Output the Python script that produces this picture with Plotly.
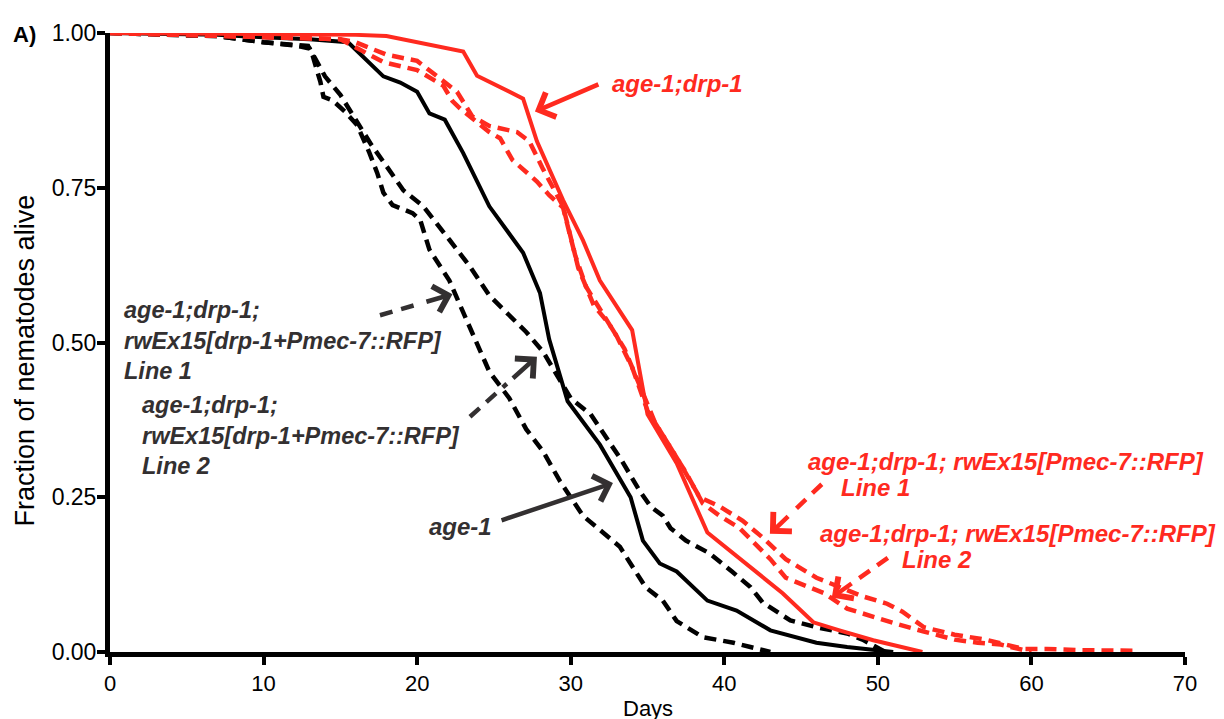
import plotly.graph_objects as go

RED = "#ff2a1f"
DARK = "#333031"

# --- survival data (days, fraction alive) ---
age1_days = [0, 7, 10, 13, 15.5, 17.8, 18.9, 20, 20.8, 21.8, 23, 24.7, 26.9, 28, 28.6,
             29.8, 31.9, 33.9, 34.7, 35.8, 36.9, 38.9, 40.8, 43, 46, 48, 51]
age1_frac = [1, 0.997, 0.993, 0.99, 0.985, 0.93, 0.92, 0.905, 0.87, 0.86, 0.806, 0.72, 0.645,
             0.58, 0.505, 0.405, 0.335, 0.25, 0.18, 0.143, 0.13, 0.083, 0.067, 0.035, 0.015,
             0.008, 0]

adrp_days = [0, 16, 18, 23, 23.9, 26.9, 27.8, 29.5, 30.8, 31.9, 34, 35, 36.9, 38.9, 43.8,
             45.8, 47.5, 49.7, 52.9]
adrp_frac = [1, 0.997, 0.995, 0.97, 0.931, 0.894, 0.825, 0.73, 0.665, 0.6, 0.52, 0.384, 0.305,
             0.193, 0.095, 0.048, 0.035, 0.019, 0]

# age-1;drp-1; rwEx15[drp-1+Pmec-7::RFP] Line 1
rescue1_days = [0, 7, 10, 12, 13, 14, 15, 16, 17, 18, 19.1, 20.4, 21.3, 22.1, 23.4, 24.7, 26,
                27.1, 28.2, 30, 31.3, 32.4, 33.3, 34.5, 35.2, 36, 36.5, 37.5, 39, 40.5, 41.7,
                42.5, 43.5, 44.3, 46, 48, 49, 50.5]
rescue1_frac = [1, 0.995, 0.985, 0.98, 0.975, 0.93, 0.9, 0.86, 0.82, 0.785, 0.746, 0.72, 0.69,
                0.666, 0.624, 0.576, 0.544, 0.517, 0.485, 0.41, 0.384, 0.345, 0.31, 0.26, 0.235,
                0.22, 0.2, 0.18, 0.16, 0.13, 0.105, 0.08, 0.063, 0.051, 0.04, 0.03, 0.02, 0]

# age-1;drp-1; rwEx15[drp-1+Pmec-7::RFP] Line 2
rescue2_days = [0, 7, 10, 12.9, 13.2, 13.7, 13.9, 14.5, 15.3, 16.1, 16.9, 17.4, 17.8, 18.4,
                19.7, 20.2, 20.8, 22.1, 22.8, 23.9, 24.7, 26, 27.1, 28.2, 29.3, 30.8, 33.2,
                34.3, 34.9, 36, 36.9, 38.6, 40.6, 41.7, 43]
rescue2_frac = [1, 0.995, 0.985, 0.979, 0.963, 0.921, 0.897, 0.891, 0.873, 0.851, 0.806, 0.774,
                0.742, 0.722, 0.709, 0.698, 0.65, 0.6, 0.56, 0.5, 0.453, 0.41, 0.36, 0.324,
                0.276, 0.22, 0.17, 0.127, 0.104, 0.083, 0.05, 0.024, 0.015, 0.008, 0]

# age-1;drp-1; rwEx15[Pmec-7::RFP] Line 1
rfp1_days = [0, 15, 16, 17, 18, 20, 21.5, 22.6, 23.6, 24.7, 26.5, 27.3, 28.2, 29.5, 30.3, 31,
             32, 33, 34, 35, 36, 37, 38.4, 39.7, 41.2, 42.5, 44, 46, 47.5, 49, 50.6, 51.6, 53,
             55, 57, 59.5, 61, 63, 67]
rfp1_frac = [1, 0.99, 0.985, 0.975, 0.965, 0.955, 0.926, 0.905, 0.865, 0.85, 0.84, 0.825, 0.78,
             0.72, 0.64, 0.59, 0.55, 0.51, 0.46, 0.39, 0.35, 0.31, 0.25, 0.235, 0.212, 0.185,
             0.15, 0.12, 0.105, 0.09, 0.078, 0.065, 0.04, 0.028, 0.02, 0.005, 0.005, 0.003,
             0.002]

# age-1;drp-1; rwEx15[Pmec-7::RFP] Line 2
rfp2_days = [0, 15, 17.8, 18.7, 20, 21.7, 22.3, 22.8, 24.7, 25.4, 26.2, 27.8, 28.6, 29.5, 30.5,
             31.5, 32.5, 33.5, 34.5, 35.5, 36.5, 37.5, 38.6, 39.7, 41, 42, 43, 44, 45.5, 46.5,
             48, 49.5, 51, 53, 55, 56.5, 58, 59.5, 60]
rfp2_frac = [1, 0.99, 0.953, 0.947, 0.94, 0.915, 0.89, 0.878, 0.84, 0.83, 0.795, 0.76, 0.738,
             0.718, 0.62, 0.56, 0.53, 0.49, 0.43, 0.37, 0.33, 0.29, 0.24, 0.22, 0.2, 0.175,
             0.15, 0.12, 0.105, 0.095, 0.07, 0.058, 0.047, 0.033, 0.02, 0.015, 0.012, 0.003, 0]

x_ticks = [0, 10, 20, 30, 40, 50, 60, 70]
y_ticks = [0, 0.25, 0.5, 0.75, 1.0]

DASH = "12px,7px"

fig = go.Figure()
series = [
    (rescue2_days, rescue2_frac, "black", DASH, 4.5),
    (rescue1_days, rescue1_frac, "black", DASH, 4.5),
    (age1_days, age1_frac, "black", "solid", 4),
    (rfp2_days, rfp2_frac, RED, DASH, 4.5),
    (rfp1_days, rfp1_frac, RED, DASH, 4.5),
    (adrp_days, adrp_frac, RED, "solid", 4),
]
for xs, ys, col, dash, w in series:
    fig.add_trace(go.Scatter(x=xs, y=ys, mode="lines", cliponaxis=False,
                             line=dict(color=col, width=w, dash=dash), showlegend=False))

LAB = dict(family="Liberation Sans, Arial, sans-serif", size=24, weight="bold", style="italic")


def label(text, x, y, color, xanchor="left", size=24):
    fig.add_annotation(x=x, y=y, text=text, showarrow=False, xanchor=xanchor, yanchor="middle",
                       align="left", font=dict(LAB, color=color, size=size))


def arrow(tail, tip, color, dashed=False):
    if dashed:
        # dashed shaft, then a short solid piece carrying the head
        fig.add_shape(type="line", x0=tail[0], y0=tail[1],
                      x1=tip[0] + 0.45 * (tail[0] - tip[0]), y1=tip[1] + 0.45 * (tail[1] - tip[1]),
                      line=dict(color=color, width=4.5, dash="13px,9px"))
        tail = (tip[0] + 0.38 * (tail[0] - tip[0]), tip[1] + 0.38 * (tail[1] - tip[1]))
    fig.add_annotation(x=tip[0], y=tip[1], ax=tail[0], ay=tail[1], axref="x", ayref="y",
                       text="", showarrow=True, arrowhead=4, arrowsize=1.15, arrowwidth=4.5,
                       arrowcolor=color)


label("age-1;drp-1", 32.55, 0.918, RED)
arrow((31.9, 0.918), (27.67, 0.873), RED)

label("age-1;drp-1;<br>rwEx15[drp-1+Pmec-7::RFP]<br>Line 1", 0.78, 0.504, DARK, size=23.5)
arrow((17.58, 0.544), (22.3, 0.578), DARK, dashed=True)

label("age-1;drp-1;<br>rwEx15[drp-1+Pmec-7::RFP]<br>Line 2", 1.95, 0.35, DARK, size=23.5)
arrow((23.44, 0.38), (27.8, 0.477), DARK, dashed=True)

label("age-1", 22.85, 0.203, DARK, xanchor="center")
arrow((25.4, 0.212), (32.75, 0.273), DARK)

label("age-1;drp-1; rwEx15[Pmec-7::RFP]", 45.35, 0.308, RED)
label("Line 1", 47.5, 0.265, RED)
arrow((46.35, 0.271), (42.97, 0.191), RED, dashed=True)

label("age-1;drp-1; rwEx15[Pmec-7::RFP]", 46.1, 0.191, RED)
label("Line 2", 51.43, 0.149, RED)
arrow((50.65, 0.152), (47.0, 0.088), RED, dashed=True)

BASE = dict(family="Liberation Sans, Arial, sans-serif", color="black")
fig.add_annotation(text="A)", xref="paper", yref="paper", x=-0.08, y=0.998, showarrow=False,
                   xanchor="center", yanchor="middle", font=dict(BASE, size=22, weight="bold"))
fig.add_annotation(text="Days", xref="paper", yref="paper", x=0.5, y=-0.091, showarrow=False,
                   xanchor="center", yanchor="middle", font=dict(BASE, size=22))
fig.add_annotation(text="Fraction of nematodes alive", xref="paper", yref="paper", x=-0.079,
                   y=0.471, showarrow=False, textangle=-90, xanchor="center", yanchor="middle",
                   font=dict(BASE, size=27))

fig.update_xaxes(range=[0, 70], tickvals=x_ticks, showline=True, linecolor="black", linewidth=5,
                 ticks="outside", ticklen=8, tickwidth=4, tickcolor="black", showgrid=False,
                 zeroline=False, tickfont=dict(BASE, size=22))
fig.update_yaxes(range=[0, 1], tickvals=y_ticks, tickformat=".2f", showline=True,
                 linecolor="black", linewidth=5, ticks="outside", ticklen=8, tickwidth=4,
                 tickcolor="black", showgrid=False, zeroline=False, tickfont=dict(BASE, size=23),
                 ticklabelstandoff=-4)
# the page body adds an 8px offset, so the margins are shifted to compensate
fig.update_layout(width=1224, height=719, paper_bgcolor="white", plot_bgcolor="white",
                  margin=dict(l=102, r=47, t=21, b=75), showlegend=False)

fig.write_html("out.html")
